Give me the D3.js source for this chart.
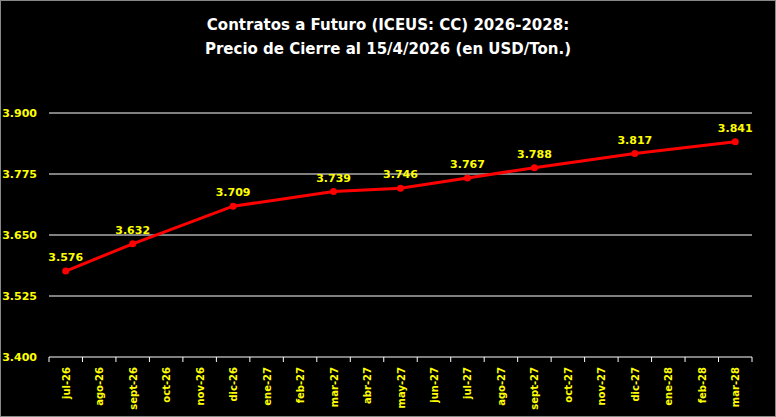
<!DOCTYPE html>
<html><head><meta charset="utf-8">
<script src="https://cdn.jsdelivr.net/npm/d3@7"></script>
<style>body{margin:0;background:#000}svg{display:block;font-family:Verdana,"DejaVu Sans",sans-serif}</style>
</head><body><svg width="776" height="417"></svg>
<script>
var months = ["jul-26","ago-26","sept-26","oct-26","nov-26","dic-26","ene-27","feb-27","mar-27","abr-27","may-27","jun-27","jul-27","ago-27","sept-27","oct-27","nov-27","dic-27","ene-28","feb-28","mar-28"];
var pointMonths = ["jul-26","sept-26","dic-26","mar-27","may-27","jul-27","sept-27","dic-27","mar-28"];
var prices = [3576,3632,3709,3739,3746,3767,3788,3817,3841];
var yTicks = [3400,3525,3650,3775,3900];

var svg = d3.select("svg");
svg.append("rect").attr("x",0.5).attr("y",0.5).attr("width",775).attr("height",416)
   .attr("fill","#000").attr("stroke","#888");

var pLeft = 49, pRight = 752, pTop = 113, pBottom = 357;
var x = d3.scaleBand().domain(months).range([pLeft,pRight]);
var y = d3.scaleLinear().domain([3400,3900]).range([pBottom,pTop]);
var fmt = function(v){ return d3.format(",")(v).replace(",","."); };

var title = svg.append("text").attr("text-anchor","middle").attr("fill","#fff")
   .attr("font-size",15).attr("font-weight","bold");
title.append("tspan").attr("x",388).attr("y",30).text("Contratos  a Futuro (ICEUS: CC) 2026-2028:");
title.append("tspan").attr("x",388).attr("y",54).text("Precio de Cierre al 15/4/2026 (en USD/Ton.)");

// grid
svg.append("g").selectAll("line").data(yTicks.slice(1)).join("line")
   .attr("x1",pLeft).attr("x2",pRight).attr("y1",function(d){return y(d);}).attr("y2",function(d){return y(d);})
   .attr("stroke","#fff").attr("stroke-width",1);
svg.append("g").selectAll("text").data(yTicks).join("text")
   .attr("x",37).attr("y",function(d){return y(d)+4;}).attr("text-anchor","end")
   .attr("fill","#ffff00").attr("font-size",11).attr("font-weight","bold").text(fmt);

// x axis
var xa = svg.append("g");
xa.append("line").attr("x1",pLeft).attr("x2",pRight).attr("y1",pBottom).attr("y2",pBottom).attr("stroke","#fff");
xa.selectAll("line.t").data(d3.range(months.length+1)).join("line").attr("class","t")
   .attr("x1",function(i){return pLeft+i*x.step();}).attr("x2",function(i){return pLeft+i*x.step();})
   .attr("y1",pBottom).attr("y2",pBottom+5).attr("stroke","#fff");
xa.selectAll("text").data(months).join("text")
   .attr("transform",function(d){return "translate("+(x(d)+x.bandwidth()/2+4)+","+(pBottom+10)+") rotate(-90)";})
   .attr("text-anchor","end").attr("fill","#ffff00").attr("font-size",10).attr("font-weight","bold").text(function(d){return d;});

var pts = pointMonths.map(function(m,i){return {m:m,v:prices[i]};});
var cx = function(d){return x(d.m)+x.bandwidth()/2;};
svg.append("path").datum(pts).attr("fill","none").attr("stroke","#ff0000").attr("stroke-width",3)
   .attr("d",d3.line().x(cx).y(function(d){return y(d.v);}));
svg.append("g").selectAll("circle").data(pts).join("circle")
   .attr("cx",cx).attr("cy",function(d){return y(d.v);}).attr("r",3.5).attr("fill","#ff0000");
svg.append("g").selectAll("text").data(pts).join("text")
   .attr("x",cx).attr("y",function(d){return y(d.v)-10;}).attr("text-anchor","middle")
   .attr("fill","#ffff00").attr("font-size",11).attr("font-weight","bold").text(function(d){return fmt(d.v);});
</script></body></html>
